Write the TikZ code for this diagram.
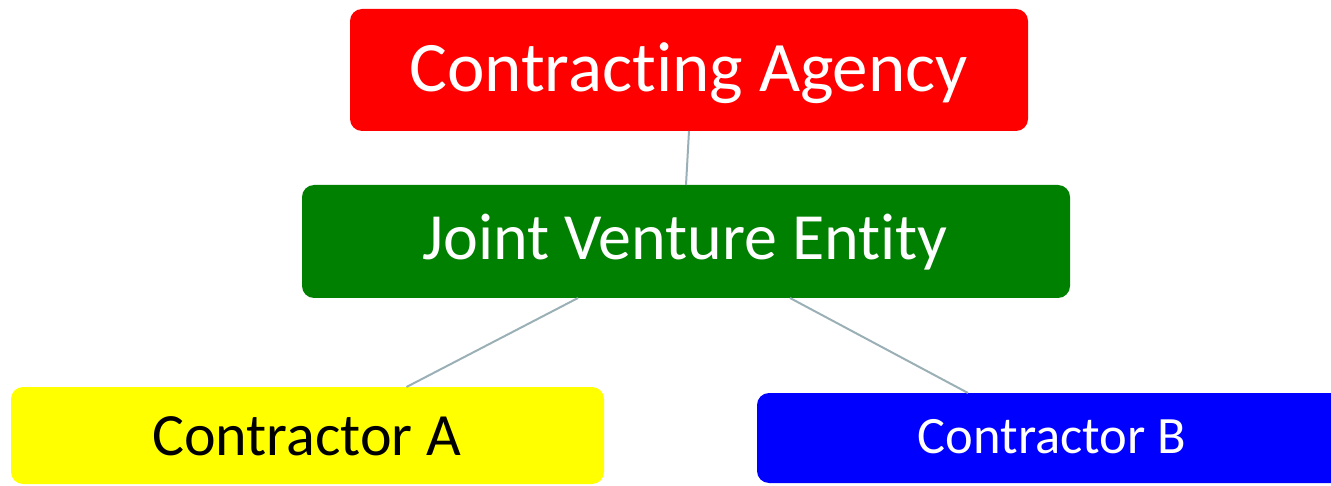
\documentclass[tikz,border=0pt]{standalone}
\usepackage{fontspec}
\setmainfont{Carlito}[RawFeature={-liga;-clig;-dlig;-calt}]
\newcommand{\brk}{\kern0pt{}}
\definecolor{linkc}{HTML}{9BB0B6}
\definecolor{jvgreen}{HTML}{008000}
\definecolor{careda}{HTML}{FF0000}
\definecolor{ayellow}{HTML}{FFFF00}
\definecolor{bblue}{HTML}{0000FF}
\begin{document}
\begin{tikzpicture}[x=1pt,y=-1pt,
  box/.style={rounded corners=12pt, inner sep=0pt, outer sep=0pt, draw=none},
  lbl/.style={inner sep=0pt, anchor=base},
  link/.style={draw=linkc, line width=2pt}]
\useasboundingbox (0,0) rectangle (1331,486);
\clip (0,0) rectangle (1331,486);
\node[box, fill=careda, minimum width=678pt, minimum height=122pt] (ca) at (689,70) {};
\node[box, fill=jvgreen, minimum width=768pt, minimum height=113pt] (jv) at (686,241.5) {};
\node[box, fill=ayellow, minimum width=593pt, minimum height=97pt] (a) at (307.5,435.5) {};
\node[box, fill=bblue, minimum width=590pt, minimum height=90pt] (b) at (1052,438) {};
\node[lbl, text=white, font=\fontsize{71}{80}\selectfont] (cat) at (688.5,92) {Contract\brk ing Agency};
\node[lbl, text=white, font=\fontsize{66}{75}\selectfont] (jvt) at (685,260) {Joint Venture Ent\brk it\brk y};
\node[lbl, text=black, font=\fontsize{60}{70}\selectfont] (at) at (306.5,455) {Contractor A};
\node[lbl, text=white, font=\fontsize{52.5}{60}\selectfont] (bt) at (1052,453) {Contractor B};
\draw[link] (ca.south) -- (jv.north);
\draw[link] ([xshift=-108pt]jv.south) -- ([xshift=99pt]a.north);
\draw[link] ([xshift=104pt]jv.south) -- ([xshift=-84pt]b.north);
\end{tikzpicture}
\end{document}
